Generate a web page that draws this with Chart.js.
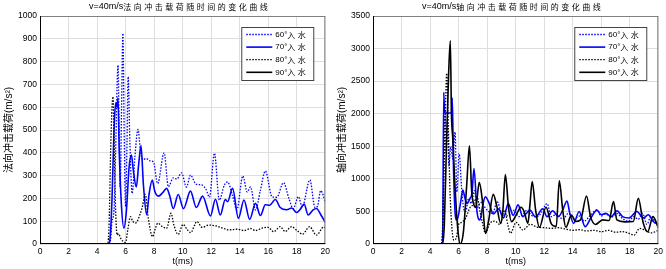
<!DOCTYPE html>
<html>
<head>
<meta charset="utf-8">
<script src="https://cdn.jsdelivr.net/npm/chart.js@4.4.1/dist/chart.umd.min.js"></script>
<style>
  html, body { margin: 0; padding: 0; background: #fff; }
  #wrap { position: relative; width: 666px; height: 269px; }
  canvas { position: absolute; top: 0; }
</style>
</head>
<body>
<div id="wrap">
  <canvas id="c1" width="333" height="269" style="left:0"></canvas>
  <canvas id="c2" width="333" height="269" style="left:333px"></canvas>
</div>
<script>
// titles / labels
const titleN = 'v=40m/s法向冲击载荷随时间的变化曲线';
const titleA = 'v=40m/s轴向冲击载荷随时间的变化曲线';
const yTitleN = '法向冲击载荷(m/s²)';
const yTitleA = '轴向冲击载荷(m/s²)';
const xTitle = 't(ms)';
const labels = ['60°入水', '70°入水', '80°入水', '90°入水'];

// tick values
const tTicks = [0, 2, 4, 6, 8, 10, 12, 14, 16, 18, 20];
const nTicks = [0, 100, 200, 300, 400, 500, 600, 700, 800, 900, 1000];
const aTicks = [0, 500, 1000, 1500, 2000, 2500, 3000, 3500];

// 法向载荷 [t(ms), value]
const n60 = [[0,0],[4.8,0],[4.95,20],[5.05,100],[5.19,149],[5.3,400],[5.47,785],[5.55,500],[5.62,250],[5.72,600],[5.81,924],
  [5.9,500],[6.0,164],[6.1,450],[6.18,734],[6.3,450],[6.46,222],[6.65,380],[6.87,503],[7.04,412],[7.2,370],[7.45,375],
  [7.7,365],[7.95,360],[8.25,265],[8.7,400],[9.0,251],[9.34,290],[9.6,285],[9.92,312],[10.27,250],[10.55,302],[10.95,262],
  [11.3,260],[11.65,238],[11.88,205],[12.23,398],[12.57,192],[12.92,258],[13.15,272],[13.5,212],[13.8,150],[14.22,298],
  [14.53,228],[14.76,250],[15.11,149],[15.45,235],[15.8,320],[16.27,207],[16.6,205],[17.07,269],[17.45,200],[17.75,155],
  [18.12,208],[18.38,162],[18.92,281],[19.28,160],[19.45,165],[19.68,234],[19.85,215],[20,180]];
const n70 = [[0,0],[4.8,0],[4.92,30],[5.05,200],[5.2,520],[5.32,620],[5.4,600],[5.47,640],[5.55,420],[5.7,180],[5.88,70],
  [6.05,140],[6.25,340],[6.41,390],[6.55,320],[6.75,250],[6.92,350],[7.08,432],[7.25,260],[7.48,128],[7.65,220],[7.87,280],
  [8.05,230],[8.3,210],[8.6,225],[8.88,244],[9.1,210],[9.34,155],[9.69,217],[10.06,155],[10.55,232],[10.96,160],[11.4,210],
  [11.95,123],[12.3,196],[12.64,127],[12.99,195],[13.15,185],[13.5,244],[13.91,113],[14.3,193],[14.7,108],[15.11,178],
  [15.45,125],[15.8,172],[16.1,170],[16.5,195],[16.84,160],[17.3,150],[17.65,158],[17.99,138],[18.22,150],[18.52,175],
  [18.8,127],[19.15,150],[19.38,156],[19.72,125],[20,95]];
const n80 = [[0,0],[4.75,0],[4.85,100],[4.95,400],[5.05,600],[5.12,646],[5.2,450],[5.3,150],[5.42,39],[5.5,45],[5.7,20],
  [6.0,7],[6.15,60],[6.34,120],[6.5,100],[6.69,92],[7.04,135],[7.2,170],[7.38,218],[7.6,110],[7.89,32],[8.05,60],[8.26,91],
  [8.6,75],[8.88,69],[9.18,135],[9.4,80],[9.69,42],[10.03,86],[10.3,65],[10.56,50],[11.0,98],[11.37,73],[11.83,83],
  [12.34,79],[12.8,70],[13.26,62],[13.84,65],[14.3,59],[14.77,68],[15.1,59],[15.57,70],[16.0,73],[16.38,54],[16.84,76],
  [17.18,55],[17.64,76],[18.0,60],[18.4,43],[18.9,76],[19.38,39],[19.9,75],[20,70]];
const n90 = [[0,0],[5,0],[10,0],[15,0],[20,0]];

// 轴向载荷 [t(ms), value]
const a60 = [[0,0],[4.8,0],[4.9,300],[4.98,1500],[5.05,2000],[5.12,1400],[5.22,1900],[5.32,1200],[5.45,1500],[5.6,1300],
  [5.75,1720],[5.88,800],[6.04,1392],[6.2,900],[6.35,550],[6.5,500],[6.7,700],[6.9,620],[7.1,820],[7.3,560],[7.55,640],
  [7.85,560],[8.1,500],[8.4,470],[8.7,650],[9.0,480],[9.3,430],[9.6,450],[9.9,520],[10.2,420],[10.5,450],[10.8,520],
  [11.1,440],[11.5,420],[11.8,480],[12.2,620],[12.5,420],[12.9,460],[13.3,380],[13.7,470],[14.1,390],[14.5,430],[14.8,350],
  [15.2,430],[15.69,522],[16.0,430],[16.3,460],[16.7,410],[17.1,470],[17.5,390],[17.9,350],[18.3,420],[18.6,380],
  [18.9,470],[19.2,300],[19.5,430],[19.8,320],[20,300]];
const a70 = [[0,0],[4.88,0],[4.96,2330],[5.02,2010],[5.5,2010],[5.56,2240],[5.64,1200],[5.75,500],[5.83,370],[5.97,420],
  [6.15,650],[6.3,830],[6.45,700],[6.6,620],[6.8,700],[6.94,780],[7.08,1160],[7.3,480],[7.5,370],[7.7,600],[7.87,726],
  [8.1,650],[8.45,460],[8.8,540],[9.15,400],[9.48,620],[9.83,440],[10.17,600],[10.5,420],[10.8,480],[11.0,520],[11.4,415],
  [11.9,540],[12.2,420],[12.6,510],[13.0,420],[13.3,520],[13.6,660],[13.8,470],[14.07,317],[14.45,500],[14.87,266],
  [15.3,410],[15.7,520],[16.0,450],[16.33,470],[16.7,420],[17.1,510],[17.5,420],[17.95,400],[18.5,500],[18.96,400],
  [19.3,450],[19.65,345],[20,300]];
const a80 = [[0,0],[4.8,0],[4.9,400],[5.05,1800],[5.17,2620],[5.28,1800],[5.4,800],[5.55,200],[5.67,60],[5.85,100],
  [6.0,300],[6.2,330],[6.5,400],[6.8,560],[7.0,600],[7.3,720],[7.5,500],[7.7,300],[7.87,164],[8.2,320],[8.55,350],
  [8.9,300],[9.23,522],[9.45,300],[9.64,164],[10.03,333],[10.5,215],[11.03,302],[11.5,260],[12.0,250],[12.5,240],
  [13.0,250],[13.5,230],[14.0,210],[14.5,220],[15.0,200],[15.5,210],[16.0,190],[16.5,210],[17.0,180],[17.5,190],
  [18.0,160],[18.3,135],[18.7,240],[19.1,210],[19.5,170],[20,210]];
const a90 = [[0,0],[4.88,0],[5.0,300],[5.15,1500],[5.3,2600],[5.42,3121],[5.5,2000],[5.6,1600],[5.72,1000],[5.85,500],
  [5.98,150],[6.11,0],[6.34,189],[6.57,906],[6.76,1509],[6.92,800],[7.05,620],[7.2,560],[7.45,946],[7.65,700],[7.89,163],
  [8.1,350],[8.43,762],[8.66,600],[8.95,317],[9.1,500],[9.28,1065],[9.5,560],[9.72,343],[10.07,460],[10.37,563],[10.6,497],
  [10.86,317],[11.0,600],[11.16,957],[11.4,522],[11.67,256],[12.13,563],[12.5,310],[12.85,270],[13.06,972],[13.3,522],
  [13.52,256],[13.91,445],[14.2,345],[14.55,370],[14.97,737],[15.25,420],[15.6,300],[16.1,370],[16.55,360],[16.86,650],
  [17.1,370],[17.65,340],[18.25,345],[18.6,700],[18.95,320],[19.26,189],[19.63,420],[20,250]];

const colors = ['#0000ff', '#0000ff', '#000000', '#000000'];
const widths = [1.3, 1.6, 1.3, 1.6];
const dashes = [[1.5, 1.5], [], [1.5, 1.5], []];

const LATIN = '"Liberation Sans", Arial, sans-serif';
const CJK = '"Noto Sans CJK SC", sans-serif';
const FONT = '"Liberation Sans", Arial, "Noto Sans CJK SC", sans-serif';

// text with spaced out CJK glyphs, like the original
function isCjk(ch) { return ch.charCodeAt(0) > 0x2e80; }
function mixedWidth(ctx, text, ls, cs, gap) {
  let w = 0;
  for (const ch of text) {
    const c = isCjk(ch);
    ctx.font = c ? cs + 'px ' + CJK : ls + 'px ' + LATIN;
    w += ctx.measureText(ch).width + (c ? gap : 0);
  }
  return w;
}
function drawMixed(ctx, text, x, y, ls, cs, gap) {
  ctx.textAlign = 'left';
  ctx.textBaseline = 'middle';
  for (const ch of text) {
    const c = isCjk(ch);
    ctx.font = c ? cs + 'px ' + CJK : ls + 'px ' + LATIN;
    ctx.fillText(ch, x, y);
    x += ctx.measureText(ch).width + (c ? gap : 0);
  }
}

const framePlugin = {
  id: 'frame',
  afterDatasetsDraw(chart) {
    const { ctx, chartArea: a } = chart;
    ctx.save();
    ctx.lineWidth = 1;
    ctx.strokeStyle = '#808080';
    ctx.beginPath();
    ctx.moveTo(a.left, a.top + 0.5); ctx.lineTo(a.right, a.top + 0.5);
    ctx.moveTo(a.right - 0.5, a.top); ctx.lineTo(a.right - 0.5, a.bottom);
    ctx.stroke();
    ctx.strokeStyle = '#000';
    ctx.beginPath();
    ctx.moveTo(a.left + 0.5, a.top); ctx.lineTo(a.left + 0.5, a.bottom);
    ctx.moveTo(a.left, a.bottom - 0.5); ctx.lineTo(a.right, a.bottom - 0.5);
    ctx.stroke();
    ctx.restore();
  }
};

const legendPlugin = {
  id: 'boxLegend',
  afterDraw(chart) {
    const { ctx, chartArea: a } = chart;
    const w = 72, h = 53;
    const x0 = a.right - 12 - w, y0 = a.top + 11;
    ctx.save();
    ctx.fillStyle = '#fff';
    ctx.fillRect(x0, y0, w, h);
    ctx.strokeStyle = '#444';
    ctx.lineWidth = 1;
    ctx.strokeRect(x0 + 0.5, y0 + 0.5, w, h);
    chart.data.datasets.forEach((ds, i) => {
      const y = y0 + 7.5 + i * 12.6;
      ctx.strokeStyle = ds.borderColor;
      ctx.lineWidth = ds.borderWidth;
      ctx.setLineDash(ds.borderDash);
      ctx.beginPath();
      ctx.moveTo(x0 + 5, y);
      ctx.lineTo(x0 + 31, y);
      ctx.stroke();
      ctx.setLineDash([]);
      ctx.fillStyle = '#000';
      drawMixed(ctx, ds.label, x0 + 34, y, 8, 8, 2.5);
    });
    ctx.restore();
  }
};

function makeChart(id, title, yTitle, yTicks, series) {
  const headline = {
    id: 'headline',
    afterDraw(chart) {
      const { ctx, chartArea: a } = chart;
      ctx.save();
      ctx.fillStyle = '#000';
      const w = mixedWidth(ctx, title, 9, 8, 2.5);
      drawMixed(ctx, title, (a.left + a.right) / 2 - 3 - w / 2, 7, 9, 8, 2.5);
      ctx.restore();
    }
  };
  return new Chart(document.getElementById(id), {
    type: 'line',
    data: {
      datasets: series.map((s, i) => ({
        label: labels[i],
        data: s.map(p => ({ x: p[0], y: p[1] })),
        borderColor: colors[i],
        borderWidth: widths[i],
        borderDash: dashes[i],
        pointRadius: 0,
        fill: false,
        cubicInterpolationMode: 'monotone',
        order: 4 - i
      }))
    },
    options: {
      responsive: false,
      animation: false,
      devicePixelRatio: 1,
      layout: { padding: { top: 16, right: 4, left: 0, bottom: 0 } },
      plugins: { legend: { display: false }, tooltip: { enabled: false }, title: { display: false } },
      scales: {
        x: {
          type: 'linear',
          min: 0, max: 20,
          afterBuildTicks: s => { s.ticks = tTicks.map(v => ({ value: v })); },
          afterFit: s => { s.height = 25; },
          ticks: { color: '#000', font: { family: FONT, size: 8.5 }, padding: 3, maxRotation: 0, autoSkip: false,
                   callback: v => String(v) },
          grid: { color: '#dedede', drawTicks: false },
          border: { display: false },
          title: { display: true, text: xTitle, color: '#000', font: { family: FONT, size: 9 }, padding: { top: 0, bottom: 1.6 } }
        },
        y: {
          min: 0, max: yTicks[yTicks.length - 1],
          afterBuildTicks: s => { s.ticks = yTicks.map(v => ({ value: v })); },
          afterFit: s => { s.width = 40; },
          ticks: { color: '#000', font: { family: FONT, size: 8.5 }, padding: 3, autoSkip: false,
                   callback: v => String(v) },
          grid: { color: '#dedede', drawTicks: false },
          border: { display: false },
          title: { display: true, text: yTitle, color: '#000', font: { family: FONT, size: 10 }, padding: { top: 3, bottom: 0 } }
        }
      }
    },
    plugins: [framePlugin, legendPlugin, headline]
  });
}

makeChart('c1', titleN, yTitleN, nTicks, [n60, n70, n80, n90]);
makeChart('c2', titleA, yTitleA, aTicks, [a60, a70, a80, a90]);
</script>
</body>
</html>
